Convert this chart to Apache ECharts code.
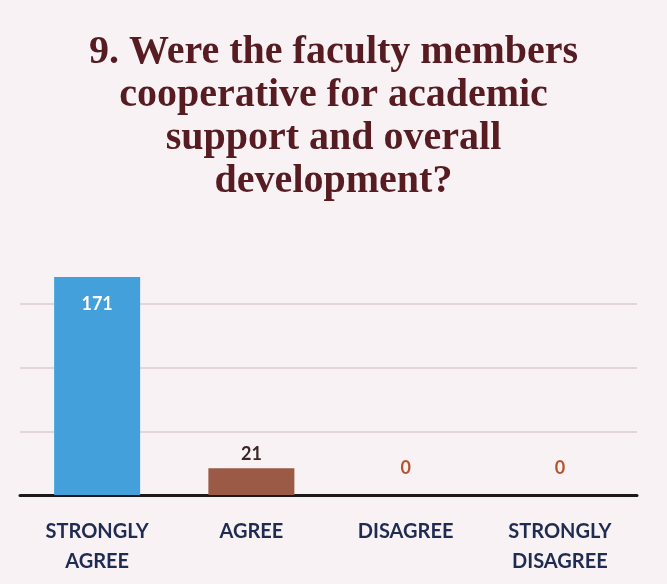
<!DOCTYPE html>
<html>
<head>
<meta charset="utf-8">
<script src="https://cdn.jsdelivr.net/npm/echarts@6/dist/echarts.min.js"></script>
<style>
  html, body { margin: 0; padding: 0; background: #f8f2f5; }
  #chart { width: 667px; height: 584px; }
</style>
</head>
<body>
<div id="chart"></div>
<script>
// Survey responses for question 9
const categories = ['STRONGLY\nAGREE', 'AGREE', 'DISAGREE', 'STRONGLY\nDISAGREE'];
const responses = [171, 21, 0, 0];
const barColors = ['#43a0da', '#9b5a45', '#c0603a', '#c0603a'];
const labelColors = ['#ffffff', '#3a2626', '#b5552c', '#b5552c'];

const chart = echarts.init(document.getElementById('chart'));

const seriesData = responses.map((v, i) => ({
  value: v,
  itemStyle: { color: barColors[i] },
  label: i === 0
    ? { position: 'insideTop', distance: 18, color: labelColors[i] }
    : { position: 'top', distance: v === 0 ? 18 : 5, color: labelColors[i] }
}));

chart.setOption({
  backgroundColor: '#f8f2f5',
  title: {
    text: '9. Were the faculty members\ncooperative for academic\nsupport and overall\ndevelopment?',
    left: 'center',
    top: 26,
    textStyle: {
      fontFamily: 'Liberation Serif',
      fontWeight: 'bold',
      fontSize: 40,
      lineHeight: 43,
      color: '#561c22'
    }
  },
  grid: { left: 20, right: 30, top: 240, bottom: 89 },
  xAxis: {
    type: 'category',
    data: categories,
    axisLine: { lineStyle: { color: '#1a1a1a', width: 3 } },
    axisTick: { show: false },
    axisLabel: {
      interval: 0,
      margin: 22,
      fontFamily: 'Lato',
      fontWeight: 'bold',
      fontSize: 20,
      lineHeight: 30,
      color: '#1f2c52'
    }
  },
  yAxis: {
    type: 'value',
    min: 0,
    max: 200,
    interval: 50,
    axisLabel: { show: false },
    axisLine: { show: false },
    axisTick: { show: false },
    splitLine: { showMaxLine: false, lineStyle: { color: '#dccdd2', width: 1.5 } }
  },
  series: [{
    type: 'bar',
    data: seriesData,
    barWidth: 86,
    label: {
      show: true,
      fontFamily: 'Lato',
      fontWeight: 'bold',
      fontSize: 18
    }
  }]
});
</script>
</body>
</html>
